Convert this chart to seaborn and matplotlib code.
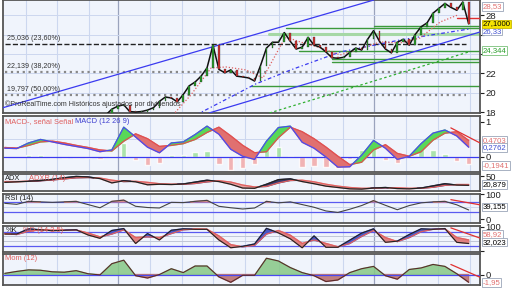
import numpy as np
import pandas as pd
import matplotlib
matplotlib.use("Agg")
import matplotlib.pyplot as plt
import seaborn as sns

sns.set_style("white")
plt.rcParams['font.family'] = ['Liberation Sans', 'DejaVu Sans']

# ---------------- data ----------------
close = [17.2, 17.3, 17.1, 17.4, 17.3, 17.5, 17.4, 17.6, 17.5, 17.4, 17.6, 17.5, 17.7, 17.6, 17.5, 17.6, 17.7,
         17.7, 18.3, 18.6, 18.75, 18.05, 18.0, 18.05, 18.2, 18.45, 19.1, 19.55, 19.45, 19.05, 19.8, 20.7,
         21.1, 21.7, 22.55, 24.9, 22.4, 22.05, 22.35, 21.7, 21.62, 21.52, 21.2, 22.8, 24.6, 25.2, 25.2,
         26.2, 25.3, 24.5, 24.7, 25.7, 24.9, 24.7, 24.2, 23.6, 23.55, 23.65, 24.15, 24.6, 24.4, 25.5, 26.4,
         25.3, 24.5, 24.1, 25.2, 25.5, 24.9, 26.0, 26.8, 27.2, 28.2, 28.7, 29.2, 28.8, 28.5, 29.35, 27.1]

macd = [0.25, 0.24, 0.40, 0.50, 0.43, 0.36, 0.30, 0.24, 0.15, 0.20, 0.85, 0.57, 0.28, 0.12, 0.40, 0.43,
        0.64, 0.88, 0.65, 0.22, 0.02, -0.07, 0.45, 0.84, 0.88, 0.42, 0.25, 0.0, -0.29, -0.28, 0.05, 0.47,
        0.25, -0.07, 0.02, 0.38, 0.68, 0.77, 0.60, 0.28]
signal = [0.27, 0.25, 0.33, 0.43, 0.45, 0.40, 0.33, 0.27, 0.20, 0.17, 0.45, 0.66, 0.52, 0.30, 0.33, 0.38,
          0.50, 0.70, 0.85, 0.60, 0.33, 0.12, 0.15, 0.55, 0.85, 0.72, 0.52, 0.28, 0.02, -0.22, -0.15, 0.20,
          0.35, 0.10, 0.02, 0.15, 0.48, 0.68, 0.72, 0.47]
adx = [27, 29, 31, 34, 38, 44, 49, 47, 41, 25, 33, 29, 18, 20, 19, 21, 28, 35, 30, 20, 6, 5, 20, 37, 40,
       30, 22, 13, 8, 3, 2, 6, 8, 4, 3, 6, 14, 22, 17, 16]
adxr = [30, 30, 31, 33, 36, 40, 44, 45, 43, 35, 30, 31, 27, 22, 20, 20, 23, 29, 33, 28, 17, 10, 12, 25,
        34, 35, 29, 20, 13, 8, 5, 5, 7, 7, 5, 5, 9, 16, 19, 19]
rsi = [64, 60, 72, 70, 68, 70, 72, 59, 46, 72, 77, 52, 47, 45, 68, 67, 72, 76, 52, 46, 41, 45, 72, 66,
       70, 59, 48, 33, 27, 40, 55, 75, 56, 38, 55, 66, 70, 72, 58, 37]
stoch_k = [70, 70, 92, 88, 84, 86, 88, 66, 52, 85, 93, 30, 72, 45, 86, 92, 90, 90, 45, 12, 18, 28, 94,
           75, 50, 12, 62, 14, 14, 44, 74, 92, 35, 40, 68, 92, 90, 93, 35, 30]
stoch_d = [72, 68, 82, 88, 86, 86, 87, 74, 58, 70, 88, 55, 58, 55, 72, 88, 91, 90, 62, 25, 16, 22, 70,
           85, 65, 30, 45, 30, 16, 30, 60, 85, 55, 38, 55, 80, 90, 92, 55, 45]
mom = [0.3, 0.8, 1.2, 1.1, 0.7, 0.6, 1.0, 0.2, -0.1, 2.8, 3.7, -0.3, -0.9, 0.0, 1.5, 0.5, 2.2, 2.2, -0.6,
       -2.0, -0.2, -0.2, 4.2, 3.5, 1.8, 0.5, -0.3, -1.8, -1.4, 0.5, 1.5, 2.1, -0.3, -1.2, 1.3, 1.7, 2.6,
       2.1, 0.2, -2.0]

fib_levels = [25.036, 22.139, 19.797]
fib_labels = ["25,036 (23,60%)", "22,139 (38,20%)", "19,797 (50,00%)"]
support_levels = [26.88, 26.64, 26.05, 24.344, 23.45, 23.2, 20.7]
support_start = [62.0, 47.2, 44.4, 49.4, 55.1, 55.1, 41.4]
upper_channel = ([0.0, 62.0], [18.5, 29.55])
lower_channel = ([33.3, 79.9], [17.71, 26.26])
green_trend = ([44.5, 78.0], [17.9, 24.2])
blue_dash_x = [32.2, 38.0, 42.2, 48.1, 56.4, 66.5, 78.1]
blue_dash_y = [17.71, 19.56, 20.9, 22.35, 24.2, 25.44, 26.57]
red_dot_x = [28.3, 31.3, 34.7, 37.2, 40.5, 43.4, 47.2, 49.7, 53.1, 56.4, 60.1, 63.1, 66.5, 69.8, 73.2, 76.2]
red_dot_y = [17.71, 19.77, 22.55, 22.65, 22.35, 21.52, 25.75, 25.23, 24.61, 23.89, 24.61, 25.23, 25.13,
             25.64, 27.29, 28.02]
red_stop = 27.67
macd_trend = ([75.0, 79.9], [0.83, 0.40])
rsi_trend = ([75.0, 79.9], [79, 58])
stoch_trend = ([75.0, 79.9], [96, 53])
mom_trend = ([75.0, 79.9], [2.6, -0.7])

idx = np.arange(len(close))
ind_idx = np.arange(0, len(close), 2)

# ---------------- layout ----------------
BG = '#f0f4fc'
GRID = '#ccd7ef'
fig = plt.figure(figsize=(5.12, 2.88), dpi=100)
fig.patch.set_facecolor('white')


def mk(top, bot):
    ax = fig.add_axes([3 / 512, 1 - bot / 288, 477 / 512, (bot - top) / 288])
    ax.set_facecolor(BG)
    ax.set_xlim(-0.3, 79.9)
    vgrid = [3.57, 8.78, 14.16, 24.41, 29.8, 35.0, 40.4, 46.1, 51.5, 56.9, 67.4, 72.8, 78.2]
    for v in vgrid:
        ax.axvline(v, color=GRID, lw=0.8, zorder=0)
    for v in [19.03, 62.1]:
        ax.axvline(v, color='#9aa3bd', lw=0.9, zorder=0)
    ax.set_xticks([])
    ax.yaxis.tick_right()
    ax.tick_params(axis='y', direction='out', length=3, labelsize=6.8, pad=1, colors='#222',
                   left=False, right=True, width=0.8)
    for s in ax.spines.values():
        s.set_color('#555')
        s.set_linewidth(1.3)
    return ax


ax_p = mk(0, 113)
ax_m = mk(116, 172)
ax_a = mk(174, 191)
ax_r = mk(194, 223)
ax_s = mk(226, 252)
ax_o = mk(254, 285)

TFS = 5.4


def rlabel(ax, y, txt, fc='white', tc='black', ec='#9aa5b8'):
    ax.text(1.005, y, txt, transform=ax.get_yaxis_transform(), fontsize=5.6, color=tc,
            va='center', ha='left', clip_on=False, zorder=20,
            bbox=dict(boxstyle='square,pad=0.1', fc=fc, ec=ec, lw=0.6))


def title(ax, parts):
    for xpos, txt, col in parts:
        ax.text(xpos, 0.97, txt, transform=ax.transAxes, fontsize=TFS, color=col, va='top', ha='left',
                zorder=8)


# ---------------- price panel ----------------
ax = ax_p
ax.set_ylim(17.9, 29.56)
ax.set_yticks([18, 20, 22, 24, 26, 28])
ax.set_yticklabels(['18', '20', '22', '', '', '28'])
for t in [18, 20, 22, 24, 26, 28]:
    ax.axhline(t, color=GRID, lw=0.7, zorder=0)
for lev, lab, ls, col in zip(fib_levels, fib_labels, ['--', ':', ':'], ['#222', '#888', '#888']):
    ax.plot([0, 77.5], [lev, lev], ls=ls, color=col, lw=1.0 if ls == '--' else 1.6, zorder=2)
    ax.text(0.3, lev + 0.15, lab, fontsize=5.1, color='#333', va='bottom', ha='left', zorder=6)
for lev, st in zip(support_levels, support_start):
    lw = 2.2 if abs(lev - 26.05) < 0.01 else 1.0
    col = '#a6d8a6' if lw > 2 else '#3c9a3c'
    ax.plot([st, 79.9], [lev, lev], color=col, lw=lw, zorder=2)
ax.plot([76.0, 79.9], [red_stop, red_stop], color='#e03030', lw=1.0, zorder=3)
ax.axline((upper_channel[0][0], upper_channel[1][0]), (upper_channel[0][1], upper_channel[1][1]),
          color='#3a3af0', lw=0.9, zorder=3)
ax.axline((lower_channel[0][0], lower_channel[1][0]), (lower_channel[0][1], lower_channel[1][1]),
          color='#3a3af0', lw=0.9, zorder=3)
ax.plot(green_trend[0], green_trend[1], ls=(0, (2, 2)), color='#30b030', lw=0.9, zorder=3)
ax.plot(blue_dash_x, blue_dash_y, ls=(0, (3, 2, 1, 2)), color='#3a3af0', lw=0.9, zorder=3)
ax.plot(red_dot_x, red_dot_y, ls=(0, (1, 1.5)), color='#e06060', lw=0.9, zorder=3)

opens = [close[0]] + close[:-1]
body_b = [min(o, c) for o, c in zip(opens, close)]
body_h = [max(abs(c - o), 0.08) for o, c in zip(opens, close)]
body_c = ['#2a9a2a' if c >= o else '#d03030' for o, c in zip(opens, close)]
sns.lineplot(x=idx, y=close, ax=ax, color='#111', lw=1.1, zorder=4)
ax.bar(idx, body_h, bottom=body_b, width=0.28, color=body_c, edgecolor='#222', linewidth=0.2, zorder=5)
ax.set_xlabel('')
ax.set_ylabel('')
ax.set_xlim(-0.3, 79.9)
ax.text(0.004, 0.045, "©ProRealTime.com Históricos ajustados por dividendos", transform=ax.transAxes,
        fontsize=5.1, color='#333', va='bottom', ha='left', zorder=6)
rlabel(ax, 26.35, "26,33", tc='#4050d0')
rlabel(ax, 28.9, "28,53", tc='#e07070')
rlabel(ax, 27.1, "27,1000", fc='#f5e400', tc='black', ec='#c8b800')
rlabel(ax, 24.344, "24,344", tc='#2ca02c', ec='#7ac07a')

# ---------------- MACD ----------------
ax = ax_m
m = np.array(macd)
sgl = np.array(signal)
hist = m - sgl
ax.set_ylim(-0.43, 1.17)
ax.set_yticks([0, 1])
ax.set_yticklabels(['0', '1'])
ax.axhline(0.5, color=GRID, lw=0.7, zorder=0)
ax.bar(ind_idx, hist, width=0.9, color=['#9ee09e' if h >= 0 else '#f2a8a8' for h in hist],
       alpha=0.85, zorder=1)
ax.axhline(0, color='#3a3af0', lw=0.9, zorder=2)
ax.fill_between(ind_idx, m, sgl, where=m >= sgl, interpolate=True, color='#58d858', zorder=3)
ax.fill_between(ind_idx, m, sgl, where=m < sgl, interpolate=True, color='#e07070', zorder=3)
sns.lineplot(x=ind_idx, y=sgl, ax=ax, color='#e05050', lw=0.9, zorder=4)
sns.lineplot(x=ind_idx, y=m, ax=ax, color='#4a4af0', lw=0.9, zorder=5)
ax.plot(macd_trend[0], macd_trend[1], color='#e03030', lw=0.9, zorder=6)
ax.set_xlim(-0.3, 79.9)
ax.set_xlabel('')
ax.set_ylabel('')
title(ax, [(0.005, "MACD-, señal Señal", '#e06060'), (0.15, "MACD (12 26 9)", '#4040d0')])
rlabel(ax, 0.4703, "0,4703", tc='#e07070')
rlabel(ax, 0.2762, "0,2762", tc='#4050d0')
rlabel(ax, -0.25, "-0,1941", tc='#e07070')

# ---------------- ADX ----------------
ax = ax_a
a1 = np.array(adx, dtype=float)
a2 = np.array(adxr, dtype=float)
ax.set_ylim(-5, 58)
ax.set_yticks([50])
ax.fill_between(ind_idx, a1, a2, where=a2 >= a1, interpolate=True, color='#e8a0a0', zorder=2)
ax.fill_between(ind_idx, a1, a2, where=a2 < a1, interpolate=True, color='#3a3a70', zorder=2)
sns.lineplot(x=ind_idx, y=a2, ax=ax, color='#e06060', lw=0.9, zorder=3)
sns.lineplot(x=ind_idx, y=a1, ax=ax, color='#222', lw=0.9, zorder=4)
ax.set_xlim(-0.3, 79.9)
ax.set_xlabel('')
ax.set_ylabel('')
title(ax, [(0.005, "ADX", '#222'), (0.055, "ADXR (14)", '#e06060')])
rlabel(ax, 20, "20,879")

# ---------------- RSI ----------------
ax = ax_r
r = np.array(rsi, dtype=float)
ax.set_ylim(-16, 102)
ax.set_yticks([0, 100])
ax.axhline(50, color=GRID, lw=0.7, zorder=0)
ax.axhline(70, color='#5a5af0', lw=0.9, zorder=1)
ax.axhline(30, color='#5a5af0', lw=0.9, zorder=1)
ax.fill_between(ind_idx, r, 70, where=r >= 70, interpolate=True, color='#d88a8a', zorder=2)
sns.lineplot(x=ind_idx, y=r, ax=ax, color='#444', lw=0.8, zorder=3)
ax.plot(rsi_trend[0], rsi_trend[1], color='#e03030', lw=0.9, zorder=6)
ax.set_xlim(-0.3, 79.9)
ax.set_xlabel('')
ax.set_ylabel('')
title(ax, [(0.005, "RSI (14)", '#222')])
rlabel(ax, 50, "39,155")

# ---------------- Stochastic ----------------
ax = ax_s
k = np.array(stoch_k, dtype=float)
d = np.array(stoch_d, dtype=float)
ax.set_ylim(-6, 104)
ax.set_yticks([0, 100])
ax.set_yticklabels(['', '100'])
for g in [40, 60]:
    ax.axhline(g, color='#c0c6d6', lw=0.7, zorder=0)
ax.axhline(80, color='#5a5af0', lw=0.9, zorder=1)
ax.axhline(20, color='#5a5af0', lw=0.9, zorder=1)
ax.fill_between(ind_idx, k, d, where=k >= d, interpolate=True, color='#4a58c8', zorder=2)
ax.fill_between(ind_idx, k, d, where=k < d, interpolate=True, color='#e08080', zorder=2)
sns.lineplot(x=ind_idx, y=d, ax=ax, color='#e06060', lw=0.9, zorder=3)
sns.lineplot(x=ind_idx, y=k, ax=ax, color='#222', lw=0.8, zorder=4)
ax.plot(stoch_trend[0], stoch_trend[1], color='#e03030', lw=0.9, zorder=6)
ax.set_xlim(-0.3, 79.9)
ax.set_xlabel('')
ax.set_ylabel('')
title(ax, [(0.005, "%K", '#222'), (0.042, "%D (14 3 5)", '#e06060')])
rlabel(ax, 67, "58,92", tc='#e07070')
rlabel(ax, 36, "32,023")

# ---------------- Momentum ----------------
ax = ax_o
mo = np.array(mom)
ax.set_ylim(-2.7, 5.3)
ax.set_yticks([0])
ax.fill_between(ind_idx, mo, 0, where=mo >= 0, interpolate=True, color='#86c886', alpha=0.85, zorder=2)
ax.fill_between(ind_idx, mo, 0, where=mo < 0, interpolate=True, color='#b86a6a', alpha=0.85, zorder=2)
ax.axhline(0, color='#4a4af0', lw=0.9, zorder=3)
sns.lineplot(x=ind_idx, y=mo, ax=ax, color='#5a2a2a', lw=0.8, zorder=4)
ax.plot(mom_trend[0], mom_trend[1], color='#e03030', lw=0.9, zorder=6)
ax.set_xlim(-0.3, 79.9)
ax.set_xlabel('')
ax.set_ylabel('')
title(ax, [(0.005, "Mom (12)", '#e06060')])
rlabel(ax, -2.05, "-1,95", tc='#e07070')

fig.savefig("out.png", dpi=100, facecolor='white')
